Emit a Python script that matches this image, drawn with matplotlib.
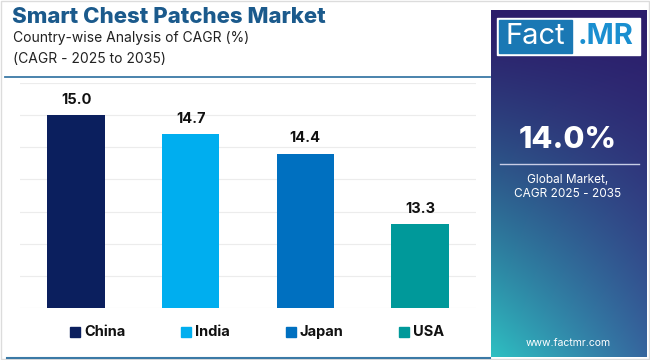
import numpy as np
import matplotlib
matplotlib.use("Agg")
import matplotlib.pyplot as plt
from matplotlib.patches import Rectangle
from matplotlib.lines import Line2D

countries = ["China", "India", "Japan", "USA"]
cagr = [15.0, 14.7, 14.4, 13.3]
colors = ["#0b1f5e", "#00aeef", "#0070c0", "#00999a"]
title = "Smart Chest Patches Market"
subtitle1 = "Country-wise Analysis of CAGR (%)"
subtitle2 = "(CAGR - 2025 to 2035)"
global_cagr = "14.0%"

W, H = 650, 360
fig = plt.figure(figsize=(W / 100, H / 100), dpi=100)
FONT = "Inter"
plt.rcParams["font.family"] = [FONT, "DejaVu Sans"]


def fx(x):
    return x / W


def fy(y):
    return 1 - y / H


# outer light border
fig.add_artist(Rectangle((fx(1), fy(359)), fx(648), 358 / H, transform=fig.transFigure,
                         fill=False, edgecolor="#dcdcdc", lw=1))

# title texts
fig.text(fx(12), fy(17), title, fontsize=16, fontweight="heavy", color="#1b5a8c",
         va="center", ha="left")
fig.text(fx(13), fy(38), subtitle1, fontsize=10, color="#222222", va="center", ha="left")
fig.text(fx(13), fy(59), subtitle2, fontsize=10, color="#222222", va="center", ha="left")
fig.add_artist(Line2D([fx(5), fx(490)], [fy(77), fy(77)], transform=fig.transFigure,
                      color="#3b7aa6", lw=1.3))
fig.add_artist(Line2D([fx(7), fx(490)], [fy(358), fy(358)], transform=fig.transFigure,
                      color="#3b7aa6", lw=1.5))

# bar axes
ax = fig.add_axes([fx(20), fy(308), fx(456), 225 / H])
x = np.arange(len(countries))
ax.bar(x, cagr, width=0.5, color=colors, zorder=3)
ax.set_ylim(12.0, 15.5)
ax.set_xlim(-0.49, 3.49)
ax.set_yticks(np.arange(12.0, 15.51, 0.5))
ax.grid(axis="y", color="#ececec", lw=0.8, zorder=0)
ax.tick_params(left=False, bottom=False, labelleft=False, labelbottom=False)
for s in ax.spines.values():
    s.set_visible(False)
for xi, v in zip(x, cagr):
    ax.annotate(f"{v:.1f}", (xi, v), xytext=(0, 6), textcoords="offset points",
                ha="center", va="bottom", fontsize=10.5, fontweight="bold", color="#111111")

# legend
leg_x = [70, 181, 286, 399]
for lx, c, name in zip(leg_x, colors, countries):
    fig.add_artist(Rectangle((fx(lx), fy(337)), fx(10), 10 / H, transform=fig.transFigure,
                             color=c))
    fig.text(fx(lx + 14), fy(332), name, fontsize=10.5, fontweight="bold", color="#111111",
             va="center", ha="left")

# right gradient panel
pax = fig.add_axes([fx(491), fy(357), fx(156), 347 / H])
ny, nx = 200, 100
t = np.linspace(0, 1, ny)[:, None]
s = np.linspace(0, 1, nx)[None, :]
top = np.array([0x2c, 0x1c, 0x6a]) / 255
bl = np.array([0x2e, 0xc0, 0xc2]) / 255
br = np.array([0x36, 0x66, 0x9e]) / 255
bottom = bl[None, None, :] * (1 - s[..., None]) + br[None, None, :] * s[..., None]
w = (t ** 1.3)[..., None]
img = top[None, None, :] * (1 - w) + bottom * w
pax.imshow(img, aspect="auto", extent=[0, 1, 1, 0], interpolation="bilinear")
pax.set_xlim(0, 1)
pax.set_ylim(1, 0)
pax.axis("off")

# logo
fig.add_artist(Rectangle((fx(497), fy(55)), fx(143), 37 / H, transform=fig.transFigure,
                         color="white"))
fig.add_artist(Rectangle((fx(499), fy(53)), fx(73), 33 / H, transform=fig.transFigure,
                         color="#1a78b4"))
fig.text(fx(535), fy(36), "Fact", fontsize=21, color="white", ha="center", va="center")
fig.text(fx(606), fy(36), ".MR", fontsize=21, fontweight="bold", color="#1a8fd0",
         ha="center", va="center")

fig.text(fx(568), fy(140), global_cagr, fontsize=22, fontweight="heavy", color="white",
         ha="center", va="center")
fig.add_artist(Line2D([fx(500), fx(639)], [fy(164), fy(164)], transform=fig.transFigure,
                      color="#c8cde6", lw=1))
fig.text(fx(568), fy(180), "Global Market,", fontsize=8.5, color="white", ha="center", va="center")
fig.text(fx(568), fy(194), "CAGR 2025 - 2035", fontsize=8.5, color="white", ha="center", va="center")
fig.text(fx(568), fy(343), "www.factmr.com", fontsize=7.5, color="white", ha="center", va="center")

fig.savefig("out.png", dpi=100)
